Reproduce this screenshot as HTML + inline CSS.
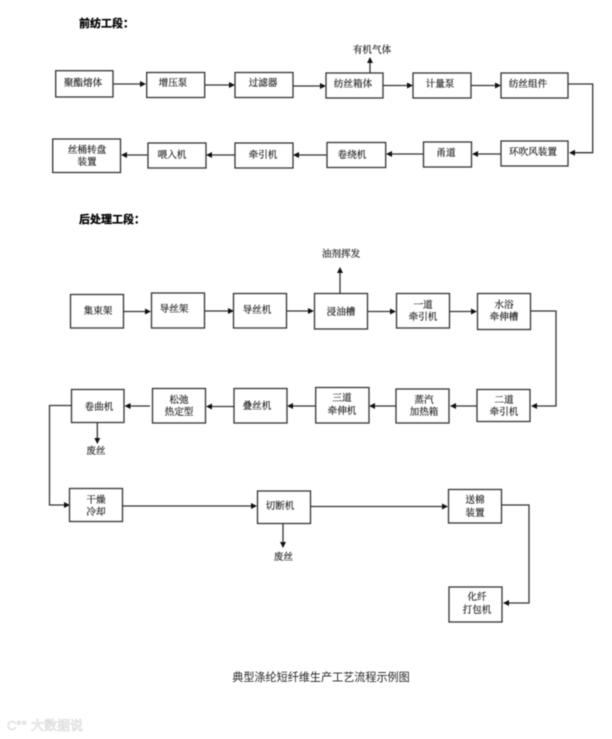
<!DOCTYPE html>
<html>
<head>
<meta charset="utf-8">
<style>
html,body{margin:0;padding:0;background:#fff;width:612px;height:739px;overflow:hidden}
svg{display:block;filter:blur(.4px)}
text{font-family:"Liberation Serif","Noto Serif CJK SC",serif;font-size:9.6px;fill:#111;stroke:#111;stroke-width:.15;text-anchor:middle;dominant-baseline:central;transform:translateY(.7px)}
.h{font-family:"Liberation Sans","Noto Sans CJK SC",sans-serif;font-size:11px;font-weight:bold;fill:#000;stroke:#000;stroke-width:.3;text-anchor:start}
.t{font-family:"Liberation Sans","Noto Sans CJK SC",sans-serif;font-size:11.1px;fill:#222;stroke:none}
.w{font-family:"Liberation Sans","Noto Sans CJK SC",sans-serif;font-size:13px;fill:#fff;stroke:#d0d0d0;stroke-width:.5;text-anchor:start}
.b rect{fill:#fff;stroke:#333;stroke-width:1.3}
.l path{fill:none;stroke:#333;stroke-width:1.3}
.a polygon{fill:#111}
</style>
</head>
<body>
<svg width="612" height="739" viewBox="0 0 612 739" xmlns="http://www.w3.org/2000/svg">
<g class="l">
<path d="M113 84H142"/><path d="M204 85H231"/><path d="M293 86H322"/><path d="M383 85.500H409"/><path d="M471 85.500H497"/>
<path d="M568 84H592.700V152.700H573"/><path d="M501 154H477"/><path d="M423 154H390"/><path d="M327 155H298"/><path d="M235 155H210"/><path d="M148 155H125"/>
<path d="M370 73V60"/>
<path d="M123.500 311.500H148"/><path d="M205 311H232"/><path d="M287 311H310"/><path d="M340 293V270"/><path d="M368 311.500H393"/><path d="M450 311.500H474"/>
<path d="M531 311H556V406H536"/><path d="M477 406H455"/><path d="M396 406H374"/><path d="M315 406H292"/><path d="M234 406.500H210"/><path d="M150 406H129"/>
<path d="M71.500 405.500H49.500V505H66"/><path d="M97.300 422.500V440"/>
<path d="M122.500 506H252"/><path d="M310.500 506.500H445"/><path d="M283 523.500V544"/>
<path d="M501.500 505H529V603H508"/>
</g>
<g class="a">
<polygon points="146,84 140,81 140,87"/><polygon points="235,85 229,82 229,88"/><polygon points="326,86 320,83 320,89"/><polygon points="413,85.500 407,82.500 407,88.500"/><polygon points="501,85.500 495,82.500 495,88.500"/>
<polygon points="569,152.700 575,149.700 575,155.700"/><polygon points="472,154 478,151 478,157"/><polygon points="386,154 392,151 392,157"/><polygon points="293,155 299,152 299,158"/><polygon points="206,155 212,152 212,158"/><polygon points="121,155 127,152 127,158"/>
<polygon points="370,57 367,63 373,63"/>
<polygon points="151,311.500 145,308.500 145,314.500"/><polygon points="234,311 228,308 228,314"/><polygon points="314,311 308,308 308,314"/><polygon points="340,267 337,273 343,273"/><polygon points="396,311.500 390,308.500 390,314.500"/><polygon points="477,311.500 471,308.500 471,314.500"/>
<polygon points="531,406 537,403 537,409"/><polygon points="450,406 456,403 456,409"/><polygon points="369,406 375,403 375,409"/><polygon points="287,406 293,403 293,409"/><polygon points="206,406.500 212,403.500 212,409.500"/><polygon points="124.500,406 130.500,403 130.500,409"/>
<polygon points="70,505 64,502 64,508"/><polygon points="97.300,444 94.300,438 100.300,438"/>
<polygon points="257,506 251,503 251,509"/><polygon points="448,506.500 442,503.500 442,509.500"/><polygon points="283,548 280,542 286,542"/>
<polygon points="503,603 509,600 509,606"/>
</g>
<g class="b">
<rect x="55.700" y="70.700" width="57.300" height="26.300"/><rect x="146.700" y="72.500" width="58" height="25"/><rect x="235" y="72.500" width="58" height="25"/><rect x="326" y="73" width="57" height="25"/><rect x="413" y="73" width="58" height="25"/><rect x="501" y="73" width="67" height="25"/>
<rect x="501" y="141" width="67" height="25"/><rect x="423.500" y="142" width="48" height="25"/><rect x="327" y="142.500" width="58.700" height="25"/><rect x="235" y="143" width="58" height="25"/><rect x="148" y="143" width="58" height="25"/><rect x="52.700" y="139" width="67.800" height="33.500"/>
<rect x="70.500" y="294.500" width="53" height="33.500"/><rect x="151.500" y="293" width="53" height="35"/><rect x="233.500" y="293.500" width="53" height="34.500"/><rect x="314.500" y="293.500" width="53" height="35.500"/><rect x="396.500" y="293.500" width="53" height="34.500"/><rect x="477.500" y="293.500" width="53" height="36"/>
<rect x="477" y="389.500" width="53" height="32"/><rect x="396" y="389" width="53" height="34"/><rect x="315.700" y="387.500" width="53.300" height="35.500"/><rect x="234" y="388.500" width="53" height="34.500"/><rect x="152.500" y="388.500" width="53" height="34.500"/><rect x="71.500" y="389.500" width="52.500" height="33"/>
<rect x="69.500" y="488.500" width="53" height="33"/><rect x="257.500" y="491" width="53" height="32.500"/><rect x="448.500" y="489.500" width="53" height="33.500"/><rect x="449" y="587" width="53" height="35"/>
</g>
<text class="h" x="79" y="23.500">前纺工段：</text>
<text class="h" x="79" y="219.500">后处理工段：</text>
<text x="372" y="50">有机气体</text>
<text x="341" y="254">油剂挥发</text>
<text x="83" y="82.700">聚酯熔体</text><text x="173" y="83">增压泵</text><text x="263" y="83">过滤器</text><text x="353" y="84">纺丝箱体</text><text x="440" y="84">计量泵</text><text x="528" y="84">纺丝组件</text>
<text x="533" y="152">环吹风装置</text><text x="446" y="153">甬道</text><text x="352" y="155">卷绕机</text><text x="263" y="155">牵引机</text><text x="172" y="155">喂入机</text><text x="87" y="150">丝桶转盘</text><text x="87" y="162">装置</text>
<text x="98" y="311">集束架</text><text x="174" y="309">导丝架</text><text x="257" y="310">导丝机</text><text x="341" y="312">浸油槽</text><text x="423" y="305">一道</text><text x="423" y="317">牵引机</text><text x="504" y="305">水浴</text><text x="504" y="317">牵伸槽</text>
<text x="504" y="400">二道</text><text x="504" y="412">牵引机</text><text x="424" y="400">蒸汽</text><text x="424" y="412">加热箱</text><text x="342" y="398">三道</text><text x="342" y="411">牵伸机</text><text x="257" y="406">叠丝机</text><text x="179" y="400">松弛</text><text x="179" y="412">热定型</text><text x="99" y="407">卷曲机</text>
<text x="96" y="451">废丝</text>
<text x="96" y="500">干燥</text><text x="96" y="512">冷却</text><text x="280" y="506">切断机</text><text x="283.500" y="557">废丝</text><text x="475" y="500">送棉</text><text x="475" y="513">装置</text><text x="477" y="597">化纤</text><text x="477" y="610">打包机</text>
<text class="t" x="321" y="677.500">典型涤纶短纤维生产工艺流程示例图</text>
<text class="w" x="7" y="725">C°°</text>
<text class="w" x="31" y="725">大数据说</text>
</svg>
</body>
</html>
